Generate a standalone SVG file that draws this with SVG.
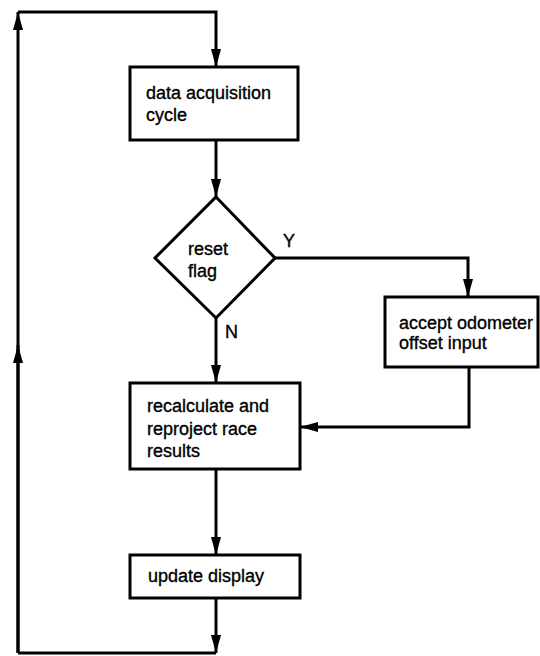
<svg xmlns="http://www.w3.org/2000/svg" width="540" height="656" viewBox="0 0 540 656">
<style>
.box{fill:#fff;stroke:#000;stroke-width:3}
.ln{fill:none;stroke:#000;stroke-width:3}
text{font-family:"Liberation Sans",Arial,sans-serif;font-size:18px;fill:#000;stroke:#000;stroke-width:0.35}
</style>
<defs>
<marker id="ah" viewBox="0 0 18 10" refX="18" refY="5" markerWidth="18" markerHeight="10" markerUnits="userSpaceOnUse" orient="auto">
<path d="M0,0 L18,5 L0,10 Z" fill="#000"/>
</marker>
</defs>
<rect width="540" height="656" fill="#fff"/>
<g id="connectors">
<path class="ln" d="M18,653 L18,12" marker-end="url(#ah)"/>
<path class="ln" d="M18,12 L216,12 L216,67" marker-end="url(#ah)"/>
<path class="ln" d="M18,653 L18,345" marker-end="url(#ah)"/>
<path class="ln" d="M216,140 L216,197" marker-end="url(#ah)"/>
<path class="ln" d="M275,258 L468,258 L468,297" marker-end="url(#ah)"/>
<path class="ln" d="M216,318 L216,383" marker-end="url(#ah)"/>
<path class="ln" d="M469,367 L469,427 L300,427" marker-end="url(#ah)"/>
<path class="ln" d="M216,469 L216,555" marker-end="url(#ah)"/>
<path class="ln" d="M216,598 L216,653" marker-end="url(#ah)"/>
<path class="ln" d="M216,653 L18,653"/>
</g>
<g id="data-acquisition">
<rect class="box" x="130" y="67" width="168" height="73"/>
<text x="146" y="99">data acquisition</text>
<text x="146" y="121">cycle</text>
</g>
<g id="reset-flag">
<path class="box" d="M216,197 L275,258 L216,318 L155,258 Z"/>
<text x="188" y="255">reset</text>
<text x="188" y="277">flag</text>
<text x="283" y="247">Y</text>
<text x="225" y="338">N</text>
</g>
<g id="odometer">
<rect class="box" x="385" y="297" width="153" height="70"/>
<text x="399" y="329">accept odometer</text>
<text x="399" y="349">offset input</text>
</g>
<g id="recalculate">
<rect class="box" x="130" y="383" width="170" height="86"/>
<text x="147" y="412">recalculate and</text>
<text x="147" y="435">reproject race</text>
<text x="147" y="457">results</text>
</g>
<g id="update-display">
<rect class="box" x="130" y="555" width="170" height="43"/>
<text x="148" y="582">update display</text>
</g>
</svg>
